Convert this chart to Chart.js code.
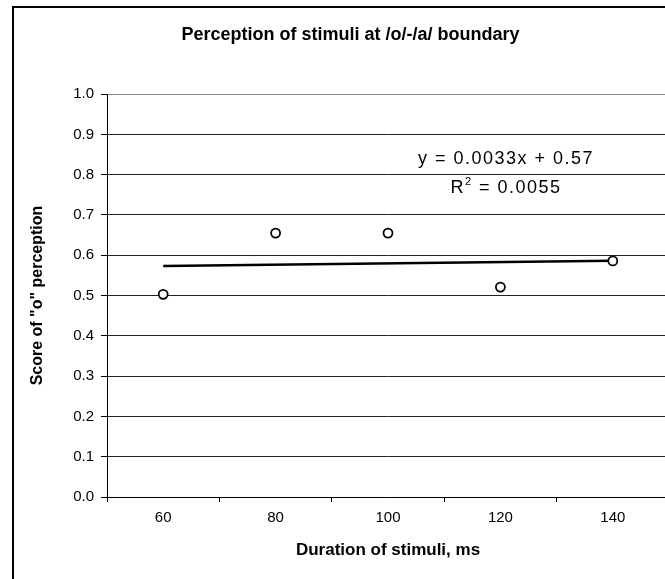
<!DOCTYPE html>
<html>
<head>
<meta charset="utf-8">
<script src="https://cdn.jsdelivr.net/npm/chart.js@4"></script>
<style>
  html, body { margin: 0; padding: 0; background: #fff; overflow: hidden; }
  #frame { position: absolute; left: 12px; top: 6px; width: 676px; height: 600px; border: 2px solid #000; }
  #wrap { position: absolute; left: 0; top: 0; width: 700px; height: 579px; }
</style>
</head>
<body>
<div id="frame"></div>
<div id="wrap"><canvas id="chart" width="700" height="579"></canvas></div>
<script>
// data
const durations = [60, 80, 100, 120, 140];
const scores = [0.503, 0.655, 0.655, 0.521, 0.586];
const trendX = [60, 140];
const trendY = [0.5733, 0.5865];
const eqText = 'y = 0.0033x + 0.57';
const r2Value = '0.0055';
const labelAt = [121, 0.84, 0.768]; // x value, y of line 1, y of line 2

const FONT = '"Liberation Sans", Arial, sans-serif';

// Excel-like trendline label
const trendLabel = {
  id: 'trendLabel',
  afterDatasetsDraw(chart) {
    const { ctx, scales: { x, y } } = chart;
    const cx = x.getPixelForValue(labelAt[0]);
    const big = '18px ' + FONT, small = '11px ' + FONT;
    ctx.save();
    ctx.fillStyle = '#000';
    ctx.letterSpacing = '1.5px';
    ctx.textBaseline = 'middle';
    ctx.textAlign = 'center';
    ctx.font = big;
    ctx.fillText(eqText, cx, y.getPixelForValue(labelAt[1]));

    const y2 = y.getPixelForValue(labelAt[2]);
    const rest = ' = ' + r2Value;
    const wR = ctx.measureText('R').width;
    const wRest = ctx.measureText(rest).width;
    ctx.font = small;
    const w2 = ctx.measureText('2').width;
    let sx = cx - (wR + w2 + wRest) / 2;
    ctx.textAlign = 'left';
    ctx.font = big;
    ctx.fillText('R', sx, y2); sx += wR;
    ctx.font = small;
    ctx.fillText('2', sx, y2 - 6); sx += w2;
    ctx.font = big;
    ctx.fillText(rest, sx, y2);
    ctx.restore();
  }
};

new Chart(document.getElementById('chart'), {
  data: {
    datasets: [{
      type: 'scatter',
      data: durations.map((d, i) => ({ x: d, y: scores[i] })),
      pointRadius: 4.5,
      pointBorderWidth: 1.8,
      pointBackgroundColor: '#fff',
      pointBorderColor: '#000'
    }, {
      type: 'line',
      data: trendX.map((d, i) => ({ x: d, y: trendY[i] })),
      borderColor: '#000',
      borderWidth: 2.5,
      pointRadius: 0,
      fill: false
    }]
  },
  options: {
    responsive: false,
    animation: false,
    layout: { padding: { left: 32, right: 31, top: 0, bottom: 0 } },
    plugins: {
      legend: { display: false },
      tooltip: { enabled: false },
      title: {
        display: true,
        text: 'Perception of stimuli at /o/-/a/ boundary',
        color: '#000',
        font: { family: FONT, size: 18, weight: 'bold', lineHeight: 1.2 },
        padding: { top: 24, bottom: 48.5 }
      }
    },
    scales: {
      x: {
        type: 'linear',
        min: 50, max: 150,
        afterFit: s => { s.height = 82; },
        ticks: {
          stepSize: 10,
          autoSkip: false,
          maxRotation: 0,
          padding: 7,
          color: '#000',
          font: { family: FONT, size: 15 },
          callback: v => (v % 20 === 0 ? v : '')
        },
        grid: {
          drawOnChartArea: false,
          tickLength: 5,
          tickColor: c => (c.tick && c.tick.value % 20 === 10 ? '#000' : 'rgba(0,0,0,0)')
        },
        border: { color: '#000', width: 1 },
        title: {
          display: true,
          text: 'Duration of stimuli, ms',
          color: '#000',
          font: { family: FONT, size: 17, weight: 'bold', lineHeight: 1.2 },
          padding: { top: 0, bottom: 18 }
        }
      },
      y: {
        min: 0, max: 1,
        afterFit: s => { s.width = 75; },
        ticks: {
          stepSize: 0.1,
          padding: 7,
          color: '#000',
          font: { family: FONT, size: 15 },
          callback: v => Number(v).toFixed(1)
        },
        grid: {
          tickLength: 6,
          tickColor: '#000',
          color: c => (c.tick && c.tick.value >= 1 ? '#888' : '#222'),
          lineWidth: 1
        },
        border: { color: '#000', width: 1 },
        title: {
          display: true,
          text: 'Score of "o" perception',
          color: '#000',
          font: { family: FONT, size: 16, weight: 'bold', lineHeight: 1.2 },
          padding: { top: -4.5, bottom: 0 }
        }
      }
    }
  },
  plugins: [trendLabel]
});
</script>
</body>
</html>
